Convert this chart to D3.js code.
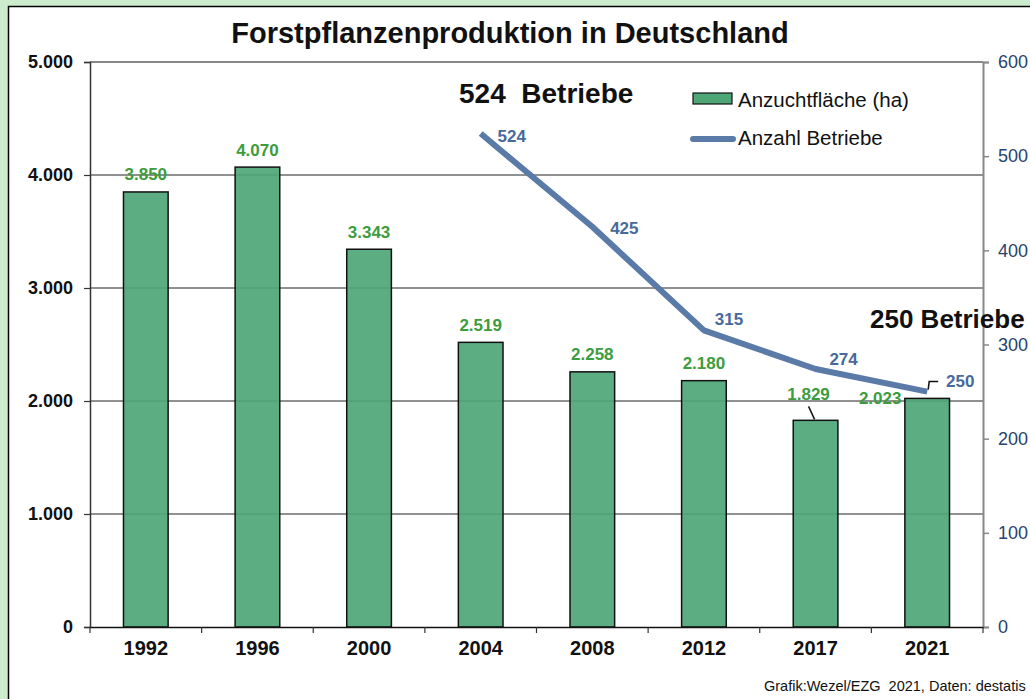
<!DOCTYPE html>
<html>
<head>
<meta charset="utf-8">
<script src="https://cdn.jsdelivr.net/npm/d3@7"></script>
<style>
  html, body { margin: 0; padding: 0; background: #cdebcd; }
  svg { display: block; font-family: "Liberation Sans", Arial, sans-serif; }
</style>
</head>
<body>
<svg id="chart" width="1030" height="699"></svg>
<script>
// data
var years = ["1992", "1996", "2000", "2004", "2008", "2012", "2017", "2021"];
var flaeche = [3850, 4070, 3343, 2519, 2258, 2180, 1829, 2023];   // Anzuchtfläche (ha)
var betriebeYears = ["2004", "2008", "2012", "2017", "2021"];
var betriebe = [524, 425, 315, 274, 250];                         // Anzahl Betriebe
var leftTicks = [0, 1000, 2000, 3000, 4000, 5000];
var rightTicks = [0, 100, 200, 300, 400, 500, 600];

// label offsets (layout only)
var lineLabelOffset = [[31, 8], [32, 7], [25, -5], [28, -4], [33, -5]];

var svg = d3.select("#chart");
var de = d3.formatLocale({decimal: ",", thousands: ".", grouping: [3], currency: ["", " €"]});
var fmt = de.format(",d");

var m = {left: 90, right: 983, top: 62, bottom: 627};

// white panel
svg.append("rect")
  .attr("x", 8.5).attr("y", 6.5).attr("width", 1040).attr("height", 720)
  .attr("fill", "#fff").attr("stroke", "#000").attr("stroke-width", 1.5);

var x = d3.scaleBand().domain(years).range([m.left, m.right])
  .paddingInner(0.6).paddingOuter(0.3);
var yL = d3.scaleLinear().domain([0, 5000]).range([m.bottom, m.top]);
var yR = d3.scaleLinear().domain([0, 600]).range([m.bottom, m.top]);
var step = x.step();

// grid lines
svg.append("g").selectAll("line")
  .data([1000, 2000, 3000, 4000])
  .enter().append("line")
  .attr("x1", m.left).attr("x2", m.right)
  .attr("y1", function(d) { return yL(d); })
  .attr("y2", function(d) { return yL(d); })
  .attr("stroke", "#222").attr("stroke-width", 1);

// top border of the plot
svg.append("line")
  .attr("x1", m.left).attr("x2", m.right)
  .attr("y1", m.top).attr("y2", m.top)
  .attr("stroke", "#888").attr("stroke-width", 2);

// bars
svg.append("g").selectAll("rect")
  .data(flaeche)
  .enter().append("rect")
  .attr("x", function(d, i) { return x(years[i]); })
  .attr("y", function(d) { return yL(d); })
  .attr("width", x.bandwidth())
  .attr("height", function(d) { return yL(0) - yL(d); })
  .attr("fill", "#4ea677").attr("fill-opacity", 0.92)
  .attr("stroke", "#111").attr("stroke-width", 1.5);

// left axis
var axL = svg.append("g")
  .attr("transform", "translate(" + m.left + ",0)")
  .call(d3.axisLeft(yL).tickValues(leftTicks).tickFormat(fmt).tickSize(6).tickPadding(11));
axL.select(".domain").attr("stroke", "#333").attr("stroke-width", 1.5);
axL.selectAll(".tick line").attr("stroke", "#333").attr("stroke-width", 1.2);
axL.selectAll("text").attr("font-size", 18).attr("font-weight", "bold").attr("fill", "#111")
  .attr("font-family", "Liberation Sans, Arial, sans-serif");

// right axis
var axR = svg.append("g")
  .attr("transform", "translate(" + m.right + ",0)")
  .call(d3.axisRight(yR).tickValues(rightTicks).tickSize(6).tickPadding(9));
axR.select(".domain").attr("stroke", "#888").attr("stroke-width", 2);
axR.selectAll(".tick line").attr("stroke", "#888").attr("stroke-width", 1.5);
axR.selectAll("text").attr("font-size", 18).attr("fill", "#26446e")
  .attr("font-family", "Liberation Sans, Arial, sans-serif");

// bottom axis: labels at centres, tick marks between categories
var axB = svg.append("g")
  .attr("transform", "translate(0," + m.bottom + ")")
  .call(d3.axisBottom(x).tickSize(0).tickPadding(14));
axB.select(".domain").attr("stroke", "#111").attr("stroke-width", 1.5);
axB.selectAll("text").attr("font-size", 20).attr("font-weight", "bold").attr("fill", "#111")
  .attr("font-family", "Liberation Sans, Arial, sans-serif");
svg.append("g").selectAll("line")
  .data(years.concat(["end"]))
  .enter().append("line")
  .attr("x1", function(d, i) { return m.left + i * step; })
  .attr("x2", function(d, i) { return m.left + i * step; })
  .attr("y1", m.bottom).attr("y2", m.bottom + 6)
  .attr("stroke", "#333").attr("stroke-width", 1.2);

// bar value labels
svg.append("g").selectAll("text")
  .data(flaeche)
  .enter().append("text")
  .attr("x", function(d, i) {
    var cx = x(years[i]) + x.bandwidth() / 2;
    if (years[i] === "2017") return cx - 7;
    if (years[i] === "2021") return cx - 47;
    return cx;
  })
  .attr("y", function(d, i) {
    if (years[i] === "2017") return yL(d) - 20;
    if (years[i] === "2021") return yL(d) + 6;
    return yL(d) - 11.5;
  })
  .attr("text-anchor", "middle")
  .attr("font-size", 17).attr("font-weight", "bold").attr("fill", "#3d9c3d")
  .text(function(d) { return fmt(d); });

// leader for 1.829
var i17 = years.indexOf("2017");
var c17 = x("2017") + x.bandwidth() / 2;
svg.append("line")
  .attr("x1", c17 - 7).attr("y1", yL(flaeche[i17]) - 14)
  .attr("x2", c17 - 1).attr("y2", yL(flaeche[i17]) - 1)
  .attr("stroke", "#111").attr("stroke-width", 1.5);

// line series
var lineGen = d3.line()
  .x(function(d, i) { return x(betriebeYears[i]) + x.bandwidth() / 2; })
  .y(function(d) { return yR(d); });
svg.append("path")
  .datum(betriebe)
  .attr("d", lineGen)
  .attr("fill", "none").attr("stroke", "#5a7aa8").attr("stroke-width", 6)
  .attr("stroke-linejoin", "round");

svg.append("g").selectAll("text")
  .data(betriebe)
  .enter().append("text")
  .attr("x", function(d, i) { return x(betriebeYears[i]) + x.bandwidth() / 2 + lineLabelOffset[i][0]; })
  .attr("y", function(d, i) { return yR(d) + lineLabelOffset[i][1]; })
  .attr("text-anchor", "middle")
  .attr("font-size", 17).attr("font-weight", "bold").attr("fill", "#47699b")
  .text(function(d) { return d; });

// leader for 250
var c21 = x("2021") + x.bandwidth() / 2;
var y250 = yR(betriebe[betriebe.length - 1]);
svg.append("path")
  .attr("d", "M" + (c21 + 1) + "," + (y250 - 2) + "L" + (c21 + 2) + "," + (y250 - 10) + "L" + (c21 + 11) + "," + (y250 - 10))
  .attr("fill", "none").attr("stroke", "#111").attr("stroke-width", 1.5);

// title and annotations
svg.append("text")
  .attr("x", 510).attr("y", 43).attr("text-anchor", "middle")
  .attr("font-size", 29).attr("font-weight", "bold").attr("fill", "#111")
  .text("Forstpflanzenproduktion in Deutschland");

svg.append("text")
  .attr("x", 459).attr("y", 103)
  .attr("font-size", 28).attr("font-weight", "bold").attr("fill", "#111")
  .text("524\u00a0 Betriebe");

svg.append("text")
  .attr("x", 870).attr("y", 328)
  .attr("font-size", 26).attr("font-weight", "bold").attr("fill", "#111")
  .text("250 Betriebe");

// legend
var lg = svg.append("g");
lg.append("rect")
  .attr("x", 693).attr("y", 93).attr("width", 39).attr("height", 11)
  .attr("fill", "#4ea677").attr("stroke", "#111").attr("stroke-width", 1.2);
lg.append("text")
  .attr("x", 738).attr("y", 107)
  .attr("font-size", 20.5).attr("fill", "#111")
  .text("Anzuchtfläche (ha)");
lg.append("line")
  .attr("x1", 693).attr("x2", 733).attr("y1", 139).attr("y2", 139)
  .attr("stroke", "#5a7aa8").attr("stroke-width", 6).attr("stroke-linecap", "round");
lg.append("text")
  .attr("x", 738).attr("y", 145)
  .attr("font-size", 20.5).attr("fill", "#111")
  .text("Anzahl Betriebe");

// source
svg.append("text")
  .attr("x", 764).attr("y", 691)
  .attr("font-size", 14.5).attr("fill", "#111")
  .text("Grafik:Wezel/EZG\u00a0 2021, Daten: destatis");
</script>
</body>
</html>
